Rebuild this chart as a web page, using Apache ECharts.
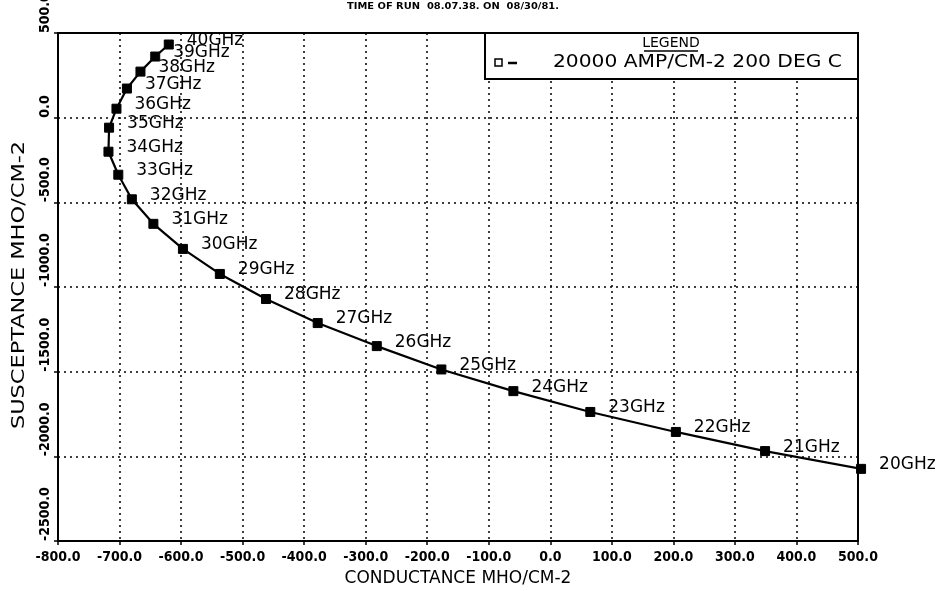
<!DOCTYPE html>
<html>
<head>
<meta charset="utf-8">
<script src="https://cdn.jsdelivr.net/npm/echarts@6/dist/echarts.min.js"></script>
<style>
html,body{margin:0;padding:0;background:#fff;}
#chart{width:944px;height:591px;}
</style>
</head>
<body>
<div id="chart"></div>
<script>
// Frequency labels of the plotted points
var freqLabels = ["40GHz","39GHz","38GHz","37GHz","36GHz","35GHz","34GHz","33GHz","32GHz","31GHz",
                  "30GHz","29GHz","28GHz","27GHz","26GHz","25GHz","24GHz","23GHz","22GHz","21GHz","20GHz"];
// Conductance (MHO/CM-2)
var conductance = [-620,-642,-666,-688,-705,-717,-718,-702,-680,-645,
                   -597,-537,-462,-378,-282,-177,-60,65,204,349,505];
// Susceptance (MHO/CM-2)
var susceptance = [432,361,272,172,53,-59,-201,-337,-482,-627,
                   -775,-923,-1071,-1213,-1349,-1487,-1615,-1738,-1856,-1969,-2074];
var seriesName = "20000 AMP/CM-2 200 DEG C";
var legendTitle = "LEGEND";
var titleText = "TIME OF RUN  08.07.38. ON  08/30/81.";
var xName = "CONDUCTANCE MHO/CM-2";
var yName = "SUSCEPTANCE MHO/CM-2";

var pts = conductance.map(function(c,i){ return [c, susceptance[i]]; });

var chart = echarts.init(document.getElementById('chart'), null, {renderer:'canvas'});
var FONT = "DejaVu Sans";
var TICKFONT = "DejaVu Sans Condensed";
function fmt(v){ return '{t|' + v.toFixed(1) + '}'; }
chart.setOption({
  animation:false,
  backgroundColor:'#fff',
  grid:{left:58, right:86, top:33, bottom:50, show:true, borderColor:'#000', borderWidth:2,
        containLabel:false, outerBoundsMode:'none'},
  xAxis:{
    type:'value', min:-800, max:500, interval:100,
    name:xName, nameLocation:'middle', nameGap:29,
    nameTextStyle:{color:'#000', fontFamily:FONT, fontSize:17},
    axisLine:{show:true, onZero:false, lineStyle:{color:'#000', width:2}},
    axisTick:{show:true, length:4, lineStyle:{color:'#000', width:1.5}},
    axisLabel:{color:'#000', fontFamily:TICKFONT, fontWeight:'bold', fontSize:14, margin:9,
      formatter:fmt,
      rich:{t:{color:'#000', fontFamily:TICKFONT, fontWeight:'bold', fontSize:14}}},
    splitLine:{show:true, lineStyle:{color:'#000', type:[2,4], width:1.5}}
  },
  yAxis:{
    type:'value', min:-2500, max:500, interval:500,
    axisLine:{show:true, onZero:false, lineStyle:{color:'#000', width:2}},
    axisTick:{show:true, length:4, lineStyle:{color:'#000', width:1.5}},
    axisLabel:{color:'#000', fontFamily:TICKFONT, fontWeight:'bold', fontSize:14, margin:6,
      rotate:90, align:'left', verticalAlign:'bottom',
      formatter:fmt,
      rich:{t:{color:'#000', fontFamily:TICKFONT, fontWeight:'bold', fontSize:14}}},
    splitLine:{show:true, lineStyle:{color:'#000', type:[2,4], width:1.5}}
  },
  graphic:[
    {type:'text', x:347, y:2, scaleX:1.1, style:{text:titleText, fill:'#000', font:'bold 9px "DejaVu Sans"'}},
    {type:'text', x:20, y:285, rotation:Math.PI/2, scaleX:1.32,
      style:{text:yName, fill:'#000', font:'17px "DejaVu Sans"', align:'center', verticalAlign:'middle'}},
    {type:'rect', shape:{x:485, y:33, width:373, height:46}, style:{fill:'#fff', stroke:'#000', lineWidth:2}, z:10},
    {type:'text', x:671, y:43, style:{text:legendTitle, fill:'#000', font:'14px "DejaVu Sans"', align:'center', verticalAlign:'middle'}, z:11},
    {type:'line', shape:{x1:644, y1:51, x2:698, y2:51}, style:{stroke:'#000', lineWidth:1.5}, z:11},
    {type:'rect', shape:{x:495, y:59, width:7, height:7}, style:{fill:'#fff', stroke:'#000', lineWidth:1.5}, z:11},
    {type:'line', shape:{x1:508, y1:63, x2:517, y2:63}, style:{stroke:'#000', lineWidth:2.5}, z:11},
    {type:'text', x:553, y:63, scaleX:1.19, style:{text:seriesName, fill:'#000', font:'17px "DejaVu Sans"', align:'left', verticalAlign:'middle'}, z:11}
  ],
  series:[{
    type:'line', name:seriesName, data:pts, clip:false,
    symbol:'rect', symbolSize:9, showSymbol:true,
    lineStyle:{color:'#000', width:2.2},
    itemStyle:{color:'#000', borderColor:'#000'},
    label:{show:true, position:'right', distance:13, offset:[0,-4], color:'#000',
      fontFamily:FONT, fontSize:17,
      formatter:function(p){return freqLabels[p.dataIndex];}},
    z:5
  }]
});
</script>
</body>
</html>
